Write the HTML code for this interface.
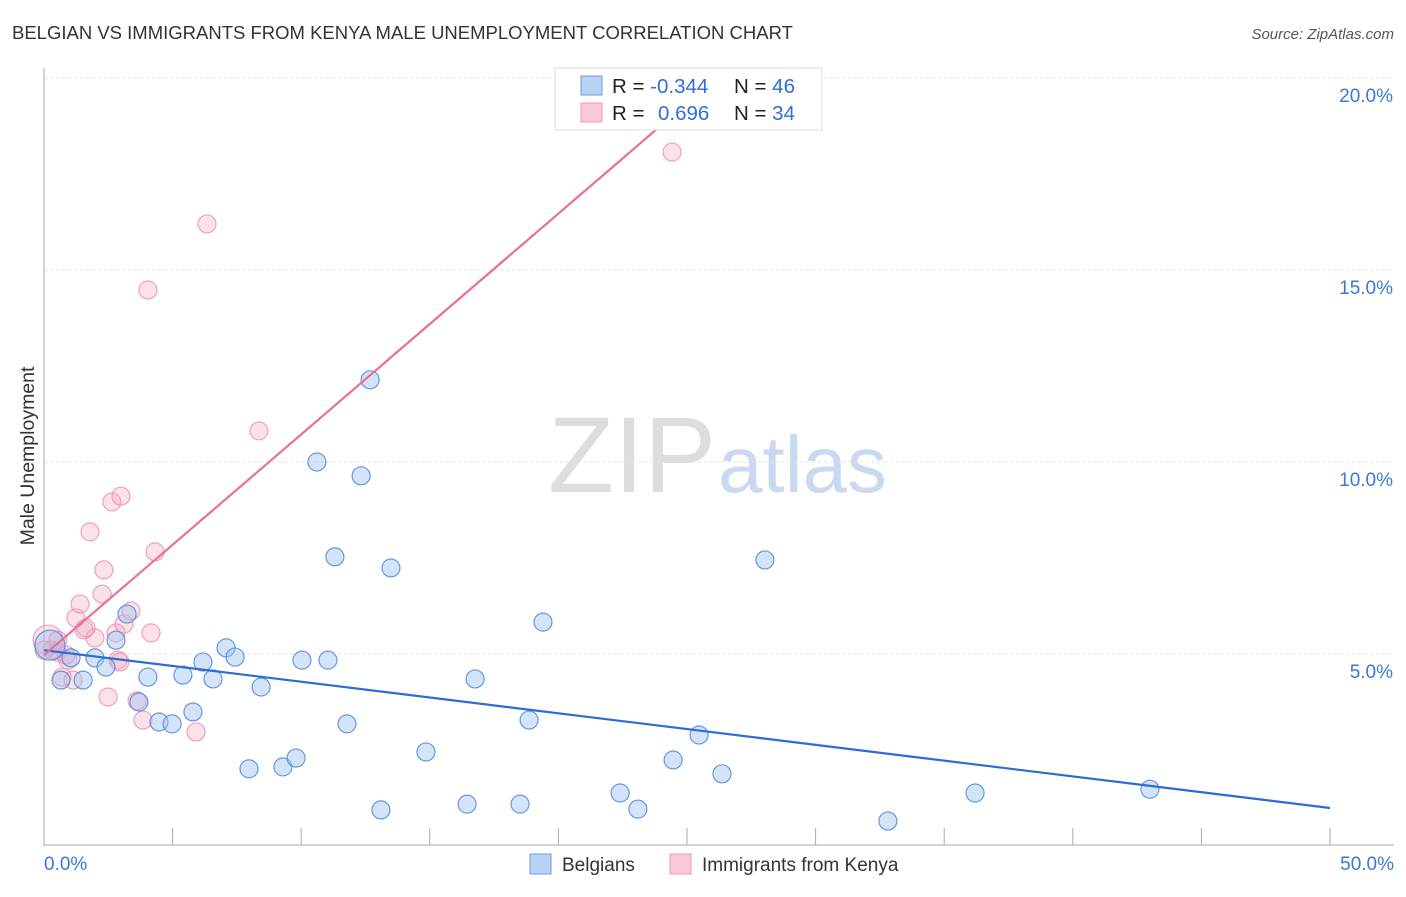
<!DOCTYPE html>
<html><head><meta charset="utf-8"><style>
body{margin:0;background:#fff;font-family:"Liberation Sans",sans-serif}
svg text{font-family:"Liberation Sans",sans-serif}
</style></head><body>
<svg id="c" width="1406" height="892" xmlns="http://www.w3.org/2000/svg">
<text x="12" y="39" font-size="18.5" fill="#333">BELGIAN VS IMMIGRANTS FROM KENYA MALE UNEMPLOYMENT CORRELATION CHART</text>
<text x="1394" y="39" font-size="15" fill="#555" text-anchor="end" font-style="italic">Source: ZipAtlas.com</text>
<text x="716" y="492" font-size="108" fill="#ddd" text-anchor="end" font-family="Liberation Serif">ZIP</text>
<text x="718" y="492" font-size="80" fill="#c9d9f0">atlas</text>
<g id="grid"></g><g id="pts"></g><g id="lines"></g>
<text transform="translate(34,456) rotate(-90)" font-size="19.5" fill="#333" text-anchor="middle">Male Unemployment</text>
<g>
<rect x="555" y="68" width="267" height="62" fill="#fff" stroke="#ddd"/>
<rect x="581" y="76" width="21" height="19" fill="#b8d2f4" stroke="#6d9be0"/>
<rect x="581" y="103" width="21" height="19" fill="#f9c9d8" stroke="#ef9ab5"/>
<text x="612" y="93" font-size="20.5" fill="#222">R = <tspan fill="#2f6ed8">-0.344</tspan></text>
<text x="734" y="93" font-size="20.5" fill="#222">N = <tspan fill="#2f6ed8">46</tspan></text>
<text x="612" y="120" font-size="20.5" fill="#222">R = <tspan fill="#2f6ed8" x="658">0.696</tspan></text>
<text x="734" y="120" font-size="20.5" fill="#222">N = <tspan fill="#2f6ed8">34</tspan></text>
</g>
<g>
<rect x="530" y="854" width="21" height="20" fill="#b8d2f4" stroke="#6d9be0"/>
<text x="562" y="871" font-size="19" fill="#333">Belgians</text>
<rect x="670" y="854" width="21" height="20" fill="#f9c9d8" stroke="#ef9ab5"/>
<text x="702" y="871" font-size="19" fill="#333">Immigrants from Kenya</text>
</g>
</svg>
<script>
const blueX=[0.23,0.66,1.05,1.52,1.98,2.41,2.80,3.23,3.69,4.04,4.47,4.98,5.40,5.79,6.18,6.57,7.08,7.43,7.97,8.44,9.29,9.80,10.03,10.61,11.04,11.31,11.78,12.33,12.68,13.10,13.49,14.85,16.45,16.76,18.51,18.86,19.40,22.40,23.09,24.46,25.47,26.36,28.03,32.81,36.20,43.00];
const blueY=[5.23,4.32,4.90,4.32,4.90,4.66,5.36,6.04,3.75,4.40,3.23,3.18,4.45,3.49,4.79,4.35,5.16,4.92,2.01,4.14,2.06,2.29,4.84,10.0,4.84,7.53,3.18,9.64,12.14,0.94,7.24,2.45,1.09,4.35,1.09,3.28,5.83,1.38,0.96,2.24,2.89,1.88,7.45,0.65,1.38,1.48];
const pinkX=[0.16,0.31,0.54,0.70,0.93,1.13,1.24,1.40,1.56,1.79,1.98,2.26,2.33,2.49,2.64,2.80,2.88,2.99,3.11,3.38,3.62,3.85,4.16,4.32,4.04,5.91,6.34,8.36,24.42,0.51,0.86,1.63,2.95,0.0];
const pinkY=[5.36,5.10,5.36,4.40,4.84,4.32,5.94,6.30,5.63,8.18,5.42,6.56,7.19,3.88,8.96,5.55,4.84,9.11,5.78,6.12,3.78,3.28,5.55,7.66,14.48,2.97,16.2,10.81,18.07,5.05,4.97,5.68,4.79,5.10];
const blueLine=[[0,5.10],[50,0.99]];
const pinkLine=[[0,4.97],[24.42,19.01]];
const yTicks=[5,10,15,20];
const xTickVals=[0,5,10,15,20,25,30,35,40,45,50];
const X=v=>44+v*25.72, Y=v=>846-v*38.4;
const NS='http://www.w3.org/2000/svg';
function mk(p,t,a){const e=document.createElementNS(NS,t);for(const k in a)e.setAttribute(k,a[k]);p.appendChild(e);return e;}
const g=document.getElementById('grid');
yTicks.forEach(t=>{
 const l=mk(g,'line',{x1:44,x2:1394,y1:Y(t),y2:Y(t),stroke:'#e2e2e2','stroke-dasharray':'3 3'});
 
 
 const tx=mk(g,'text',{x:1393,y:Y(t)+24,'font-size':19,fill:'#3b78d8','text-anchor':'end'});tx.textContent=t.toFixed(1)+'%';
 
 
});
const ax=mk(g,'line',{x1:44,x2:44,y1:68,y2:846,stroke:'#aaa'});


const bx=mk(g,'line',{x1:44,x2:1394,y1:845,y2:845,stroke:'#aaa'});


xTickVals.forEach(t=>{const l=mk(g,'line',{x1:X(t),x2:X(t),y1:828,y2:845,stroke:'#aaa'});
 
 });
[[0,'start'],[50,'end']].forEach(([t,a])=>{const tx=mk(g,'text',{x:t?1394:44,y:870,'font-size':19,fill:'#3b78d8','text-anchor':a});tx.textContent=t.toFixed(1)+'%';
 
 });
const p=document.getElementById('pts');
function pts(xs,ys,fill,stroke,name){xs.forEach((x,i)=>{const c=mk(p,'circle',{cx:X(x),cy:Y(ys[i]),r:i==0?15:9,fill:fill,stroke:stroke,'stroke-width':1.2});
 
 });}
pts(pinkX,pinkY,'rgba(244,170,195,0.35)','rgba(236,140,172,0.8)','kenya-point');
pts(blueX,blueY,'rgba(160,196,240,0.45)','rgba(80,135,215,0.85)','belgian-point');
const L=document.getElementById('lines');
const bl=mk(L,'line',{x1:X(blueLine[0][0]),y1:Y(blueLine[0][1]),x2:X(blueLine[1][0]),y2:Y(blueLine[1][1]),stroke:'#2a6dd6','stroke-width':2.2});


const pl=mk(L,'line',{x1:X(pinkLine[0][0]),y1:Y(pinkLine[0][1]),x2:X(pinkLine[1][0]),y2:Y(pinkLine[1][1]),stroke:'#e8709a','stroke-width':2.2});


</script>
</body></html>
